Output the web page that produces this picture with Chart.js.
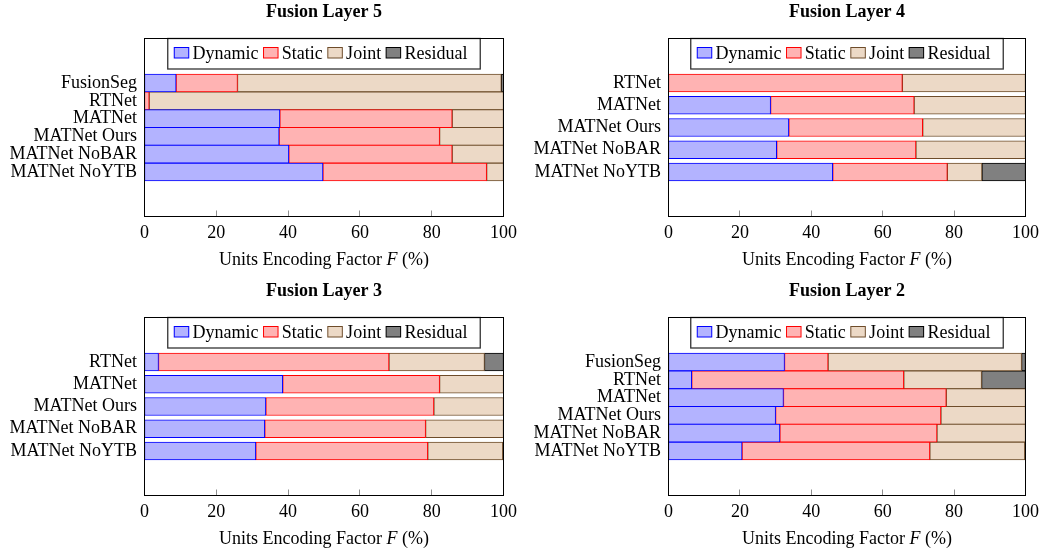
<!DOCTYPE html>
<html>
<head>
<meta charset="utf-8">
<script src="https://cdn.jsdelivr.net/npm/chart.js@4/dist/chart.umd.min.js"></script>
<style>
  html, body { margin: 0; padding: 0; background: #fff; width: 1047px; height: 551px; overflow: hidden; }
  canvas { position: absolute; left: 0; top: 0; }
</style>
</head>
<body>
<canvas id="layer5" width="1047" height="551"></canvas>
<canvas id="layer4" width="1047" height="551"></canvas>
<canvas id="layer3" width="1047" height="551"></canvas>
<canvas id="layer2" width="1047" height="551"></canvas>
<script>
// Share (%) of units per encoding factor, one stacked bar per model.
const seriesNames = ['Dynamic', 'Static', 'Joint', 'Residual'];
const xTickValues = [0, 20, 40, 60, 80, 100];

// Fusion Layer 5
const catsL5     = ['FusionSeg', 'RTNet', 'MATNet', 'MATNet Ours', 'MATNet NoBAR', 'MATNet NoYTB'];
const dynamicL5  = [8.8, 0, 37.7, 37.5, 40.2, 49.7];
const staticL5   = [17.1, 1.3, 48.0, 44.7, 45.5, 45.6];
const jointL5    = [73.5, 98.7, 14.3, 17.8, 14.3, 4.7];
const residualL5 = [0.6, 0, 0, 0, 0, 0];

// Fusion Layer 4
const catsL4     = ['RTNet', 'MATNet', 'MATNet Ours', 'MATNet NoBAR', 'MATNet NoYTB'];
const dynamicL4  = [0, 28.6, 33.7, 30.3, 46.0];
const staticL4   = [65.5, 40.2, 37.5, 39.0, 32.1];
const jointL4    = [34.5, 31.2, 28.8, 30.7, 9.7];
const residualL4 = [0, 0, 0, 0, 12.2];

// Fusion Layer 3
const catsL3     = ['RTNet', 'MATNet', 'MATNet Ours', 'MATNet NoBAR', 'MATNet NoYTB'];
const dynamicL3  = [3.9, 38.5, 33.8, 33.5, 31.0];
const staticL3   = [64.2, 43.7, 46.8, 44.8, 47.9];
const jointL3    = [26.6, 17.8, 19.4, 21.7, 20.9];
const residualL3 = [5.3, 0, 0, 0, 0.2];

// Fusion Layer 2
const catsL2     = ['FusionSeg', 'RTNet', 'MATNet', 'MATNet Ours', 'MATNet NoBAR', 'MATNet NoYTB'];
const dynamicL2  = [32.5, 6.5, 32.2, 30.0, 31.2, 20.6];
const staticL2   = [12.2, 59.4, 45.6, 46.3, 44.0, 52.6];
const jointL2    = [54.2, 21.8, 22.2, 23.7, 24.8, 26.6];
const residualL2 = [1.1, 12.3, 0, 0, 0, 0.2];

// Styling
const FILLS = ['#b3b3ff', '#ffb3b3', '#ecd9c6', '#808080'];
const EDGES = ['#0000ff', '#ff0000', '#6e4c2a', '#000000'];
const SERIF = "'Liberation Serif', 'Times New Roman', serif";
const PAGE_W = 1047, PAGE_H = 551;

const panels = [
  { id: 'layer5', title: 'Fusion Layer 5', cats: catsL5,
    series: [dynamicL5, staticL5, jointL5, residualL5],
    box: [144.5, 38.5, 503.5, 216.5], pad: 2.5 },
  { id: 'layer4', title: 'Fusion Layer 4', cats: catsL4,
    series: [dynamicL4, staticL4, jointL4, residualL4],
    box: [668.5, 38.5, 1025.5, 216.5], pad: 2.0 },
  { id: 'layer3', title: 'Fusion Layer 3', cats: catsL3,
    series: [dynamicL3, staticL3, jointL3, residualL3],
    box: [144.5, 317.5, 503.5, 495.5], pad: 2.0 },
  { id: 'layer2', title: 'Fusion Layer 2', cats: catsL2,
    series: [dynamicL2, staticL2, jointL2, residualL2],
    box: [668.5, 317.5, 1025.5, 495.5], pad: 2.5 },
];

// Frame, inner x ticks, panel title, boxed legend and axis title.
const decor = {
  id: 'decor',
  afterDraw(chart, args, opts) {
    const { ctx, chartArea: a } = chart;
    const x = chart.scales.x;
    const cx = (a.left + a.right) / 2;
    ctx.save();

    // inner tick marks on the bottom axis
    ctx.strokeStyle = '#8f8f8f';
    ctx.lineWidth = 1;
    xTickValues.forEach(v => {
      const px = Math.round(x.getPixelForValue(v) - 0.5) + 0.5;
      ctx.beginPath();
      ctx.moveTo(px, a.bottom);
      ctx.lineTo(px, a.bottom - 6);
      ctx.stroke();
    });

    // legend box
    const lw = 312.5, lh = 30.5;
    const lx = cx - lw / 2, ly = a.top;
    ctx.fillStyle = '#fff';
    ctx.fillRect(lx, ly, lw, lh);
    ctx.strokeStyle = '#333333';
    ctx.lineWidth = 1.3;
    ctx.strokeRect(lx, ly, lw, lh);
    ctx.font = `18px ${SERIF}`;
    ctx.textBaseline = 'alphabetic';
    ctx.textAlign = 'left';
    let px = lx + 6;
    chart.data.datasets.forEach(ds => {
      ctx.fillStyle = ds.borderColor;
      ctx.fillRect(px, ly + 8.5, 15.5, 11.5);
      ctx.fillStyle = ds.backgroundColor;
      ctx.fillRect(px + 1, ly + 9.5, 13.5, 9.5);
      px += 15.5 + 3.3;
      ctx.fillStyle = '#000';
      ctx.fillText(ds.label, px, ly + 20.5);
      px += ctx.measureText(ds.label).width + 4.5;
    });

    // plot frame
    ctx.strokeStyle = '#000';
    ctx.lineWidth = 1;
    ctx.strokeRect(a.left, a.top, a.right - a.left, a.bottom - a.top);

    // panel title
    ctx.fillStyle = '#000';
    ctx.font = `bold 18px ${SERIF}`;
    ctx.textAlign = 'center';
    ctx.fillText(opts.title, cx, a.top - 21.5);

    // axis title with italic symbol
    const parts = [
      ['Units Encoding Factor ', `18px ${SERIF}`],
      ['F', `italic 18px ${SERIF}`],
      [' (%)', `18px ${SERIF}`],
    ];
    let total = 0;
    parts.forEach(([t, f]) => { ctx.font = f; total += ctx.measureText(t).width; });
    let tx = cx - total / 2;
    ctx.textAlign = 'left';
    parts.forEach(([t, f]) => {
      ctx.font = f;
      ctx.fillText(t, tx, a.bottom + 48);
      tx += ctx.measureText(t).width;
    });

    ctx.restore();
  }
};

function drawPanel(p) {
  const [L, T, R, B] = p.box;
  const n = p.cats.length;
  const datasets = seriesNames.map((name, k) => ({
    label: name,
    data: p.series[k].map((v, i) => ({ x: v, y: i })),
    backgroundColor: FILLS[k],
    borderColor: EDGES[k],
    borderWidth: 1,
    borderSkipped: false,
    barThickness: 18,
  }));
  const tickFont = { family: SERIF, size: 18 };
  new Chart(document.getElementById(p.id), {
    type: 'bar',
    data: { datasets },
    options: {
      indexAxis: 'y',
      responsive: false,
      animation: false,
      devicePixelRatio: 1,
      events: [],
      layout: { padding: { left: 0, top: T, right: PAGE_W - R, bottom: 0 } },
      plugins: {
        legend: { display: false },
        tooltip: { enabled: false },
        title: { display: false },
        decor: { title: p.title },
      },
      scales: {
        x: {
          type: 'linear', min: 0, max: 100, stacked: true,
          afterFit: s => { s.height = PAGE_H - B; },
          afterBuildTicks: s => { s.ticks = xTickValues.map(v => ({ value: v })); },
          grid: { display: false, drawTicks: false },
          border: { display: false },
          ticks: { font: tickFont, color: '#000', padding: 5.5, maxRotation: 0, autoSkip: false },
        },
        y: {
          type: 'linear', reverse: true, stacked: true, offset: false,
          min: -p.pad, max: n - 1 + p.pad,
          afterFit: s => { s.width = L; },
          afterBuildTicks: s => { s.ticks = p.cats.map((_, i) => ({ value: i })); },
          grid: { display: false, drawTicks: false, offset: false },
          border: { display: false },
          ticks: {
            font: tickFont, color: '#000', padding: 7.5, autoSkip: false,
            callback: v => p.cats[Math.round(v)],
          },
        },
      },
    },
    plugins: [decor],
  });
}

panels.forEach(drawPanel);
</script>
</body>
</html>
